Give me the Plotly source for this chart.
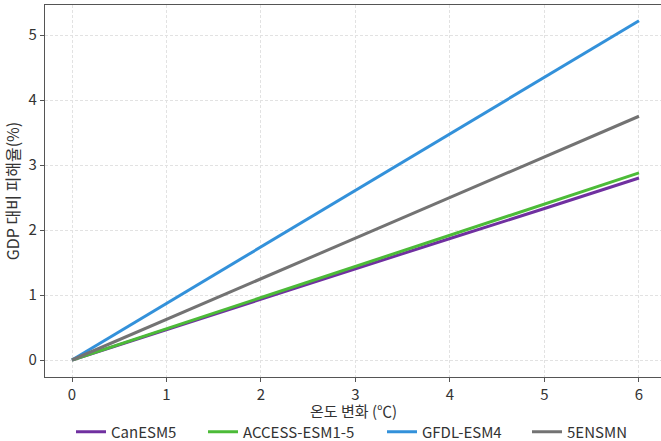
import plotly.graph_objects as go

temp = [0, 1, 2, 3, 4, 5, 6]
series_names = ["CanESM5", "ACCESS-ESM1-5", "GFDL-ESM4", "5ENSMN"]
can_esm5 = [0, 0.47, 0.93, 1.40, 1.87, 2.33, 2.80]
access_esm = [0, 0.48, 0.96, 1.44, 1.92, 2.40, 2.88]
gfdl_esm4 = [0, 0.87, 1.74, 2.61, 3.48, 4.35, 5.22]
ensmn = [0, 0.625, 1.25, 1.875, 2.50, 3.125, 3.75]
colors = ["#7030a0", "#4cbb38", "#3391da", "#737373"]
legend_ids = ["legend", "legend2", "legend3", "legend4"]
legend_x_px = [71, 203, 382, 527]
x_title = "온도 변화 (℃)"
y_title = "GDP 대비 피해율(%)"

fig = go.Figure()
for name, vals, c, lg in zip(series_names, [can_esm5, access_esm, gfdl_esm4, ensmn], colors, legend_ids):
    fig.add_trace(go.Scatter(x=temp, y=vals, mode="lines", name=name, legend=lg,
                             line=dict(color=c, width=3)))

font_family = "Noto Sans CJK KR, Noto Sans, sans-serif"
W, H = 661, 441
M_T, M_B = 5, 64
plot_h = H - M_T - M_B
legend_cfg = {}
for lg, px in zip(legend_ids, legend_x_px):
    legend_cfg[lg] = dict(orientation="h", xref="container", yref="container",
                          x=px / W, xanchor="left", y=1 - 432 / H, yanchor="middle",
                          font=dict(size=15, color="#333333"), bgcolor="rgba(0,0,0,0)")

fig.update_layout(
    width=W, height=H,
    margin=dict(l=45, r=0, t=M_T, b=M_B, autoexpand=False),
    paper_bgcolor="white", plot_bgcolor="white",
    font=dict(family=font_family, size=15, color="#333333"),
    showlegend=True,
    xaxis=dict(range=[-0.2857, 6.233], tickvals=temp, showgrid=True, automargin=False,
               gridcolor="#e2e2e2", griddash="3px,2px", gridwidth=1,
               showline=True, linecolor="#555555", linewidth=1.2, mirror=True,
               ticks="outside", ticklen=4, tickcolor="#555555", zeroline=False),
    yaxis=dict(range=[-0.2615, 5.4615], tickvals=[0, 1, 2, 3, 4, 5], showgrid=True, automargin=False,
               gridcolor="#e2e2e2", griddash="3px,2px", gridwidth=1,
               showline=True, linecolor="#555555", linewidth=1.2, mirror=True,
               ticks="outside", ticklen=4, tickcolor="#555555", zeroline=False,
               title=dict(text=y_title, standoff=8, font=dict(size=16))),
    annotations=[dict(text=x_title, xref="paper", yref="paper", x=0.5, xanchor="center",
                      y=-(411 - (H - M_B)) / plot_h, yanchor="middle", showarrow=False,
                      font=dict(size=15, color="#333333"))],
    **legend_cfg,
)

fig.write_html("out.html", config={"displayModeBar": False},
               post_script="document.body.style.margin='0';document.body.style.overflow='hidden';")
